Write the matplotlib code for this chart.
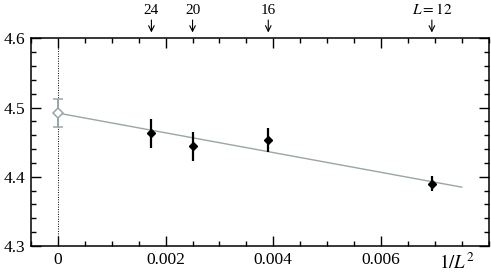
import matplotlib
matplotlib.use("Agg")
import matplotlib.pyplot as plt
from matplotlib.ticker import MultipleLocator, FixedLocator, FixedFormatter

plt.rcParams["font.family"] = ["Liberation Serif", "DejaVu Serif"]
plt.rcParams["mathtext.fontset"] = "stix"

# data
L = [24, 20, 16, 12]
y = [4.463, 4.444, 4.453, 4.390]
yerr = [0.021, 0.021, 0.017, 0.011]
x = [1.0 / l**2 for l in L]

y0 = 4.492
y0_err = 0.020
fit_x = [0.0, 0.0075]
fit_y = [4.492, 4.385]

top_labels = ["24", "20", "16", "$L = 12$"]

GRAY = "#9aa5a8"

fig = plt.figure(figsize=(4.91, 2.73), dpi=100)
ax = fig.add_axes([31 / 491, 1 - 246 / 273, (488.7 - 31) / 491, (246 - 38.3) / 273])

ax.axvline(0, color="black", linestyle=(0, (1, 1.5)), linewidth=0.7)
ax.plot(fit_x, fit_y, color=GRAY, linewidth=1.0)
ax.errorbar([0], [y0], yerr=[y0_err], fmt="D", mfc="white", mec=GRAY, ecolor=GRAY,
            ms=5.5, mew=1.1, elinewidth=1.4, capsize=3.5, capthick=1.2, zorder=4)
ax.errorbar(x, y, yerr=yerr, fmt="D", color="black", ms=4.5, elinewidth=1.6,
            capsize=0, zorder=5)

ax.set_xlim(-0.0005, 0.008)
ax.set_ylim(4.3, 4.6)

ax.xaxis.set_major_locator(FixedLocator([0, 0.002, 0.004, 0.006]))
ax.xaxis.set_major_formatter(FixedFormatter(["0", "0.002", "0.004", "0.006"]))
ax.xaxis.set_minor_locator(MultipleLocator(0.0005))
ax.yaxis.set_major_locator(FixedLocator([4.3, 4.4, 4.5, 4.6]))
ax.yaxis.set_major_formatter(FixedFormatter(["4.3", "4.4", "4.5", "4.6"]))
ax.yaxis.set_minor_locator(MultipleLocator(0.02))

ax.tick_params(which="both", direction="in", top=True, right=True, width=1.0,
               labelsize=12.5, pad=4)
ax.tick_params(which="major", length=7.5)
ax.tick_params(which="minor", length=3.8)
for s in ax.spines.values():
    s.set_linewidth(1.1)

ax.text(0.0074, -0.113, "$1/L^2$", transform=ax.get_xaxis_transform(),
        ha="center", va="baseline", fontsize=13.5)

for xi, lab in zip(x, top_labels):
    ax.annotate("", xy=(xi, 1.028), xytext=(xi, 1.088),
                xycoords=("data", "axes fraction"),
                arrowprops=dict(arrowstyle="->", color="black", lw=0.8,
                                shrinkA=0, shrinkB=0))
    ax.text(xi, 1.117, lab, transform=ax.get_xaxis_transform(), ha="center",
            va="baseline", fontsize=11)

fig.savefig("out.png", dpi=100)
